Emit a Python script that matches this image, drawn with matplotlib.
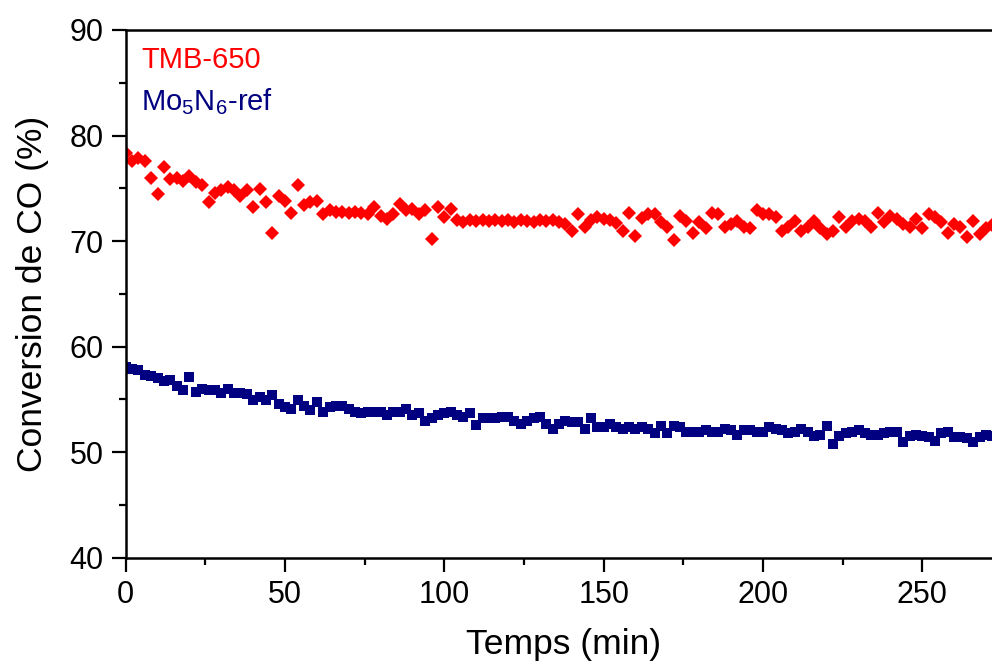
import numpy as np
import matplotlib
matplotlib.use("Agg")
import matplotlib.pyplot as plt

plt.rcParams['font.family'] = ['Liberation Sans', 'DejaVu Sans']
plt.rcParams['mathtext.fontset'] = 'custom'
plt.rcParams['mathtext.rm'] = 'Liberation Sans'
plt.rcParams['mathtext.it'] = 'Liberation Sans'

# time grid (min), sampled every 2 min
time_min = np.arange(0, 273, 2)

tmb650 = [
    78.3, 77.6, 77.9, 77.6, 76.0, 74.5, 77.0, 75.9, 76.0, 75.7,   # 0-18
    76.2, 75.6, 75.3, 73.7, 74.6, 74.8, 75.1, 74.8, 74.3, 74.8,   # 20-38
    73.2, 74.9, 73.7, 70.8, 74.3, 73.8, 72.7, 75.3, 73.4, 73.7,   # 40-58
    73.8, 72.6, 72.9, 72.8, 72.8, 72.7, 72.8, 72.7, 72.6, 73.2,   # 60-78
    72.4, 72.1, 72.6, 73.5, 72.9, 73.0, 72.6, 72.9, 70.2, 73.2,   # 80-98
    72.3, 73.0, 72.0, 71.8, 72.0, 71.9, 72.0, 71.9, 72.0, 71.9,   # 100-118
    72.0, 71.8, 72.0, 71.9, 71.8, 72.0, 71.9, 72.0, 71.8, 71.6,   # 120-138
    71.0, 72.6, 71.3, 72.0, 72.3, 72.1, 72.0, 71.7, 71.0, 72.7,   # 140-158
    70.5, 72.2, 72.6, 72.6, 71.8, 71.3, 70.1, 72.4, 71.9, 70.8,   # 160-178
    71.8, 71.2, 72.7, 72.6, 71.3, 71.6, 71.9, 71.3, 71.2, 72.9,   # 180-198
    72.6, 72.6, 72.3, 71.0, 71.3, 71.9, 71.0, 71.3, 71.9, 71.2,   # 200-218
    70.7, 71.0, 72.3, 71.3, 71.9, 72.1, 71.9, 71.3, 72.7, 71.8,   # 220-238
    72.4, 72.1, 71.6, 71.3, 72.1, 71.2, 72.6, 72.3, 71.8, 70.8,   # 240-258
    71.6, 71.3, 70.4, 71.9, 70.7, 71.2, 71.5                      # 260-272
]

mo5n6_ref = [
    58.1, 57.9, 57.8, 57.3, 57.2, 57.0, 56.7, 56.8, 56.3, 55.9,   # 0-18
    57.1, 55.7, 56.0, 55.9, 55.9, 55.6, 56.0, 55.6, 55.6, 55.5,   # 20-38
    54.9, 55.2, 54.9, 55.4, 54.6, 54.3, 54.1, 54.9, 54.4, 54.0,   # 40-58
    54.8, 53.8, 54.3, 54.4, 54.4, 54.1, 53.8, 53.7, 53.8, 53.8,   # 60-78
    53.8, 53.5, 53.8, 53.8, 54.1, 53.5, 53.7, 53.0, 53.2, 53.5,   # 80-98
    53.7, 53.8, 53.5, 53.3, 53.7, 52.6, 53.2, 53.2, 53.2, 53.3,   # 100-118
    53.3, 53.0, 52.7, 53.0, 53.2, 53.3, 52.7, 52.2, 52.7, 53.0,   # 120-138
    52.9, 52.9, 52.2, 53.2, 52.4, 52.4, 52.7, 52.4, 52.2, 52.4,   # 140-158
    52.2, 52.4, 52.2, 51.8, 52.5, 51.8, 52.5, 52.4, 51.9, 51.9,   # 160-178
    51.9, 52.1, 51.9, 51.9, 52.2, 52.1, 51.6, 52.1, 52.1, 51.9,   # 180-198
    51.9, 52.4, 52.2, 52.1, 51.8, 51.9, 52.2, 51.9, 51.5, 51.6,   # 200-218
    52.5, 50.8, 51.5, 51.8, 51.9, 52.1, 51.8, 51.6, 51.6, 51.8,   # 220-238
    51.9, 51.9, 51.0, 51.5, 51.6, 51.5, 51.45, 51.1, 51.8, 51.9,  # 240-258
    51.45, 51.45, 51.3, 51.0, 51.45, 51.6, 51.5                   # 260-272
]

series_names = ["TMB-650", "Mo$_5$N$_6$-ref"]
x_ticks = [0, 50, 100, 150, 200, 250]
y_ticks = [40, 50, 60, 70, 80, 90]

fig = plt.figure(figsize=(9.92, 6.63), dpi=100)
ax = fig.add_axes([0.1267, 0.1588, 0.8833, 0.7960])

ax.plot(time_min, tmb650, linestyle='none', marker='D', markersize=7.6,
        color='#ff0000', markeredgewidth=0, clip_on=True)
ax.plot(time_min, mo5n6_ref, linestyle='none', marker='s', markersize=7.8,
        color='#000080', markeredgewidth=0, clip_on=True)

ax.set_xlim(0, 275)
ax.set_ylim(40, 90)
ax.set_xticks(x_ticks)
ax.set_yticks(y_ticks)
ax.set_xticks([25, 75, 125, 175, 225, 275], minor=True)
ax.set_yticks([45, 55, 65, 75, 85], minor=True)

for side in ['left', 'bottom', 'top', 'right']:
    ax.spines[side].set_linewidth(1.8)
ax.spines['right'].set_visible(False)

ax.tick_params(axis='both', which='major', direction='out', length=10, width=1.6,
               labelsize=22, pad=6)
ax.tick_params(axis='both', which='minor', direction='out', length=5, width=1.6)
ax.tick_params(top=False, right=False, which='both')

ax.set_xlabel("Temps (min)", fontsize=25.5, labelpad=13)
ax.set_ylabel("Conversion de CO (%)", fontsize=25.5, labelpad=15)

ax.text(0.018, 0.943, series_names[0], transform=ax.transAxes, color='#ff0000',
        fontsize=21, va='center', ha='left')
ax.text(0.018, 0.865, series_names[1], transform=ax.transAxes, color='#000080',
        fontsize=21, va='center', ha='left')

fig.savefig("out.png", dpi=100)
